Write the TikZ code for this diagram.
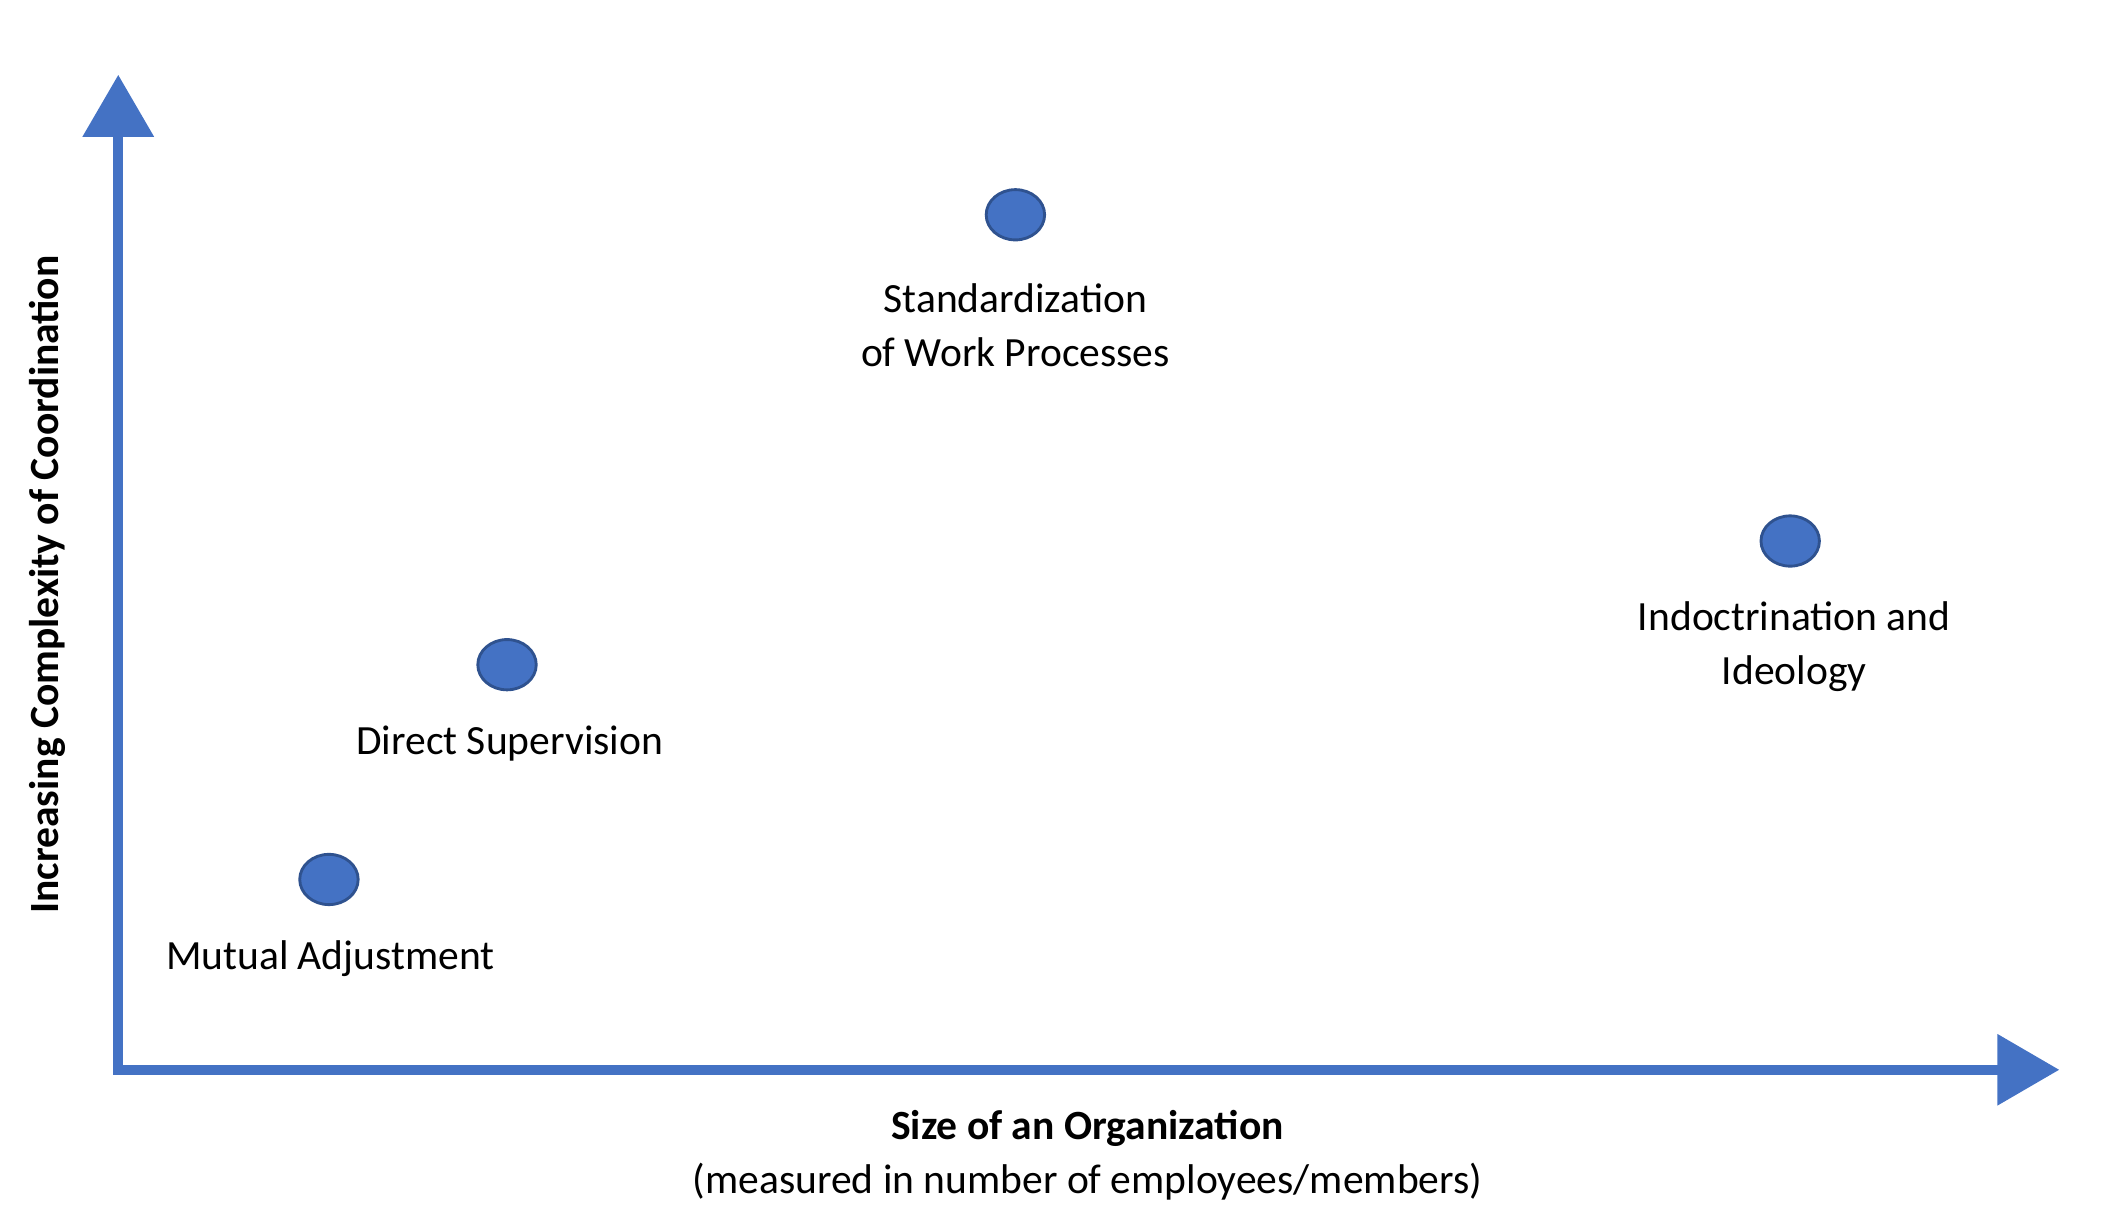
\documentclass[tikz,border=0pt]{standalone}
\usepackage{fontspec}
\setmainfont{Carlito}
\usetikzlibrary{arrows.meta, shapes.geometric}
\definecolor{axisblue}{HTML}{4472C4}
\definecolor{dotedge}{HTML}{2F528F}
\begin{document}
\begin{tikzpicture}[
	x = 0.02cm, y = -0.02cm,
	axis/.style = {line width=4pt, axisblue, -{Triangle[width=29pt, length=26pt]}},
	dot/.style = {ellipse, draw=dotedge, fill=axisblue, line width=1.2pt, minimum width=0.86cm, minimum height=0.74cm, inner sep=0pt},
	lbl/.style = {font=\fontsize{17.4}{22.6}\selectfont, align=center}
]
\useasboundingbox (0,0) rectangle (1553,900);

\coordinate (origin) at (87,787);
\coordinate (ytip) at (87,55);
\coordinate (xtip) at (1515,787);
\draw[axis] ([yshift=-2pt]origin) -- (ytip);
\draw[axis] ([xshift=-2pt]origin) -- (xtip);

\node[dot] (mutual) at (242,647) {};
\node[dot] (direct) at (373,489) {};
\node[dot] (standard) at (747,158) {};
\node[dot] (indoc) at (1317,398) {};

\node[lbl] (mutuallbl) at (243,705) {Mutual Adjustment};
\node[lbl] (directlbl) at (375,547) {Direct Supervision};
\node[lbl] (standardlbl) at (747,239) {Standardization\\of Work Processes};
\node[lbl] (indoclbl) at (1320,476) {Indoctrination and\\Ideology};

\node[lbl, font=\fontsize{17.4}{22.6}\selectfont\bfseries] (xlabel) at (800,830) {Size of an Organization};
\node[lbl] (xnote) at (800,869) {(measured in number of employees/members)};
\node[lbl, font=\fontsize{17.4}{22.6}\selectfont\bfseries, rotate=90] (ylabel) at (35,430) {Increasing Complexity of Coordination};
\end{tikzpicture}
\end{document}
